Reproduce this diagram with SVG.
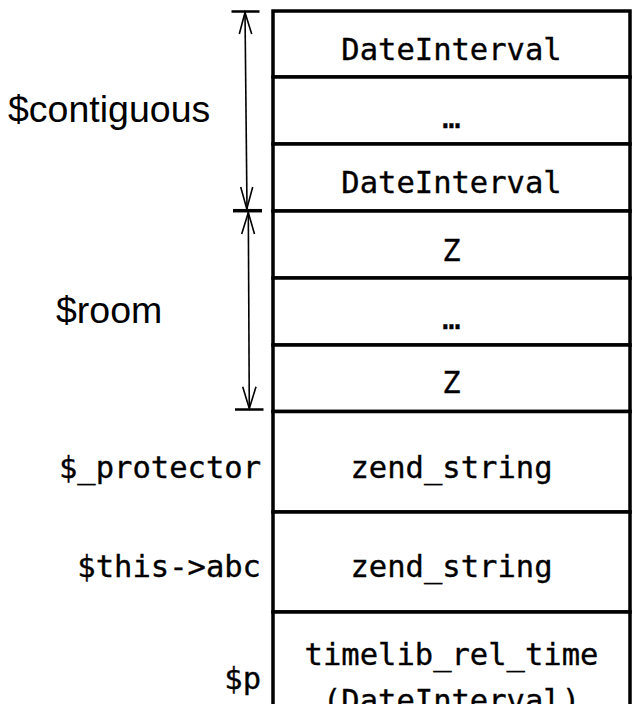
<svg xmlns="http://www.w3.org/2000/svg" width="640" height="704" viewBox="0 0 640 704">
  <style>
    .cell { fill: #ffffff; stroke: #000000; stroke-width: 3.5; }
    .mono { font-family: "DejaVu Sans Mono", "Liberation Mono", monospace; font-size: 30.5px; fill: #000000; stroke: #000000; stroke-width: 0.35; }
    .mid { text-anchor: middle; }
    .end { text-anchor: end; }
    .sans { font-family: "Liberation Sans", Arial, sans-serif; font-size: 37.5px; fill: #000000; }
    .dim { stroke: #000000; stroke-width: 1.6; fill: none; }
    .tick { stroke: #000000; stroke-width: 2.5; fill: none; }
  </style>
  <rect width="640" height="704" fill="#ffffff"/>

  <g id="cell-dateinterval-1">
    <rect class="cell" x="273" y="11" width="357" height="66"/>
    <text class="mono mid" x="451.5" y="60">DateInterval</text>
  </g>
  <g id="cell-ellipsis-1">
    <rect class="cell" x="273" y="77" width="357" height="67"/>
    <text class="mono mid" x="451.5" y="128">…</text>
  </g>
  <g id="cell-dateinterval-2">
    <rect class="cell" x="273" y="144" width="357" height="67"/>
    <text class="mono mid" x="451.5" y="193">DateInterval</text>
  </g>
  <g id="cell-z-1">
    <rect class="cell" x="273" y="211" width="357" height="67"/>
    <text class="mono mid" x="451.5" y="261">Z</text>
  </g>
  <g id="cell-ellipsis-2">
    <rect class="cell" x="273" y="278" width="357" height="67"/>
    <text class="mono mid" x="451.5" y="329">…</text>
  </g>
  <g id="cell-z-2">
    <rect class="cell" x="273" y="345" width="357" height="66.5"/>
    <text class="mono mid" x="451.5" y="393">Z</text>
  </g>
  <g id="cell-protector">
    <rect class="cell" x="273" y="411.5" width="357" height="100.5"/>
    <text class="mono mid" x="451.5" y="478">zend_string</text>
    <text class="mono end" x="261" y="478">$_protector</text>
  </g>
  <g id="cell-abc">
    <rect class="cell" x="273" y="512" width="357" height="100"/>
    <text class="mono mid" x="451.5" y="577">zend_string</text>
    <text class="mono end" x="261" y="577">$this-&gt;abc</text>
  </g>
  <g id="cell-p">
    <rect class="cell" x="273" y="612" width="357" height="120"/>
    <text class="mono mid" x="451.5" y="665">timelib_rel_time</text>
    <text class="mono mid" x="451.5" y="711">(DateInterval)</text>
    <text class="mono end" x="261" y="689">$p</text>
  </g>

  <g id="label-contiguous">
    <text class="sans" x="8" y="122">$contiguous</text>
  </g>
  <g id="label-room">
    <text class="sans" x="56" y="323">$room</text>
  </g>

  <g id="connectors">
    <!-- $contiguous dimension -->
    <line class="tick" x1="231.5" y1="11.5" x2="259.5" y2="11.5"/>
    <line class="dim" x1="245" y1="12" x2="247" y2="209"/>
    <polyline class="dim" points="239.3,34 245,12.5 251.7,34"/>
    <polyline class="dim" points="240.7,187 246.8,209 252.7,187"/>
    <line class="tick" x1="233" y1="210.7" x2="262" y2="210.7" style="stroke-width:3.5"/>
    <!-- $room dimension -->
    <line class="dim" x1="248.3" y1="212" x2="249.3" y2="408"/>
    <polyline class="dim" points="241.7,234 248.3,212.5 254.5,234"/>
    <polyline class="dim" points="242.7,386.7 249.3,408.5 256,386.7"/>
    <line class="tick" x1="235" y1="409.5" x2="263.5" y2="409.5"/>
  </g>
</svg>
